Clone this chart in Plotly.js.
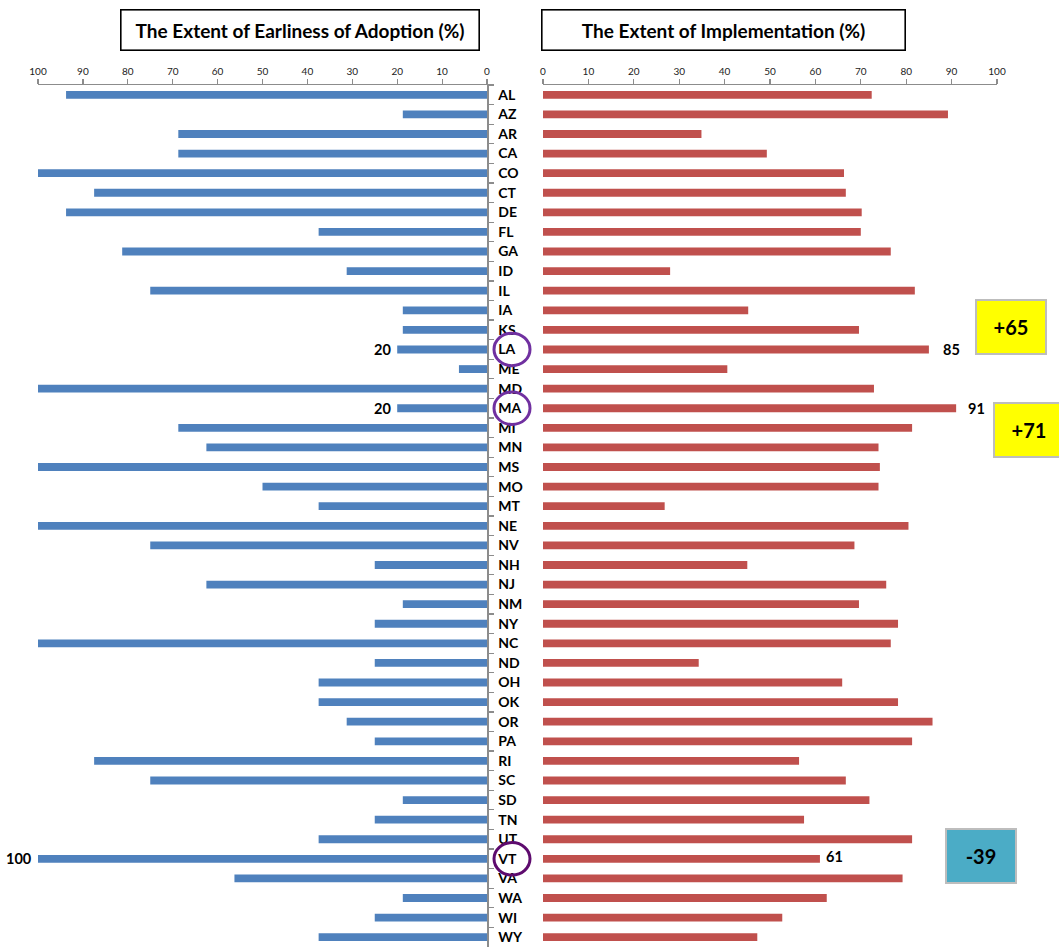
<!DOCTYPE html>
<html>
<head>
<meta charset="utf-8">
<script src="https://cdn.plot.ly/plotly-3.0.1.min.js"></script>
<style>
  html, body { margin: 0; padding: 0; background: #ffffff; }
  #chart { width: 1059px; height: 948px; }
</style>
</head>
<body>
<div id="chart"></div>
<script>
// State codes, top to bottom
const states = ['AL','AZ','AR','CA','CO','CT','DE','FL','GA','ID','IL','IA','KS','LA','ME',
  'MD','MA','MI','MN','MS','MO','MT','NE','NV','NH','NJ','NM','NY','NC','ND',
  'OH','OK','OR','PA','RI','SC','SD','TN','UT','VT','VA','WA','WI','WY'];

// The Extent of Earliness of Adoption (%)
const adoption = [93.75,18.75,68.75,68.75,100,87.5,93.75,37.5,81.25,31.25,75,18.75,18.75,20,6.25,
  100,20,68.75,62.5,100,50,37.5,100,75,25,62.5,18.75,25,100,25,
  37.5,37.5,31.25,25,87.5,75,18.75,25,37.5,100,56.25,18.75,25,37.5];

// The Extent of Implementation (%)
const implementation = [72.4,89.2,34.9,49.3,66.3,66.7,70.2,70,76.6,28,81.9,45.2,69.6,85,40.6,
  72.9,91,81.3,73.9,74.2,73.9,26.8,80.5,68.6,45,75.6,69.6,78.2,76.6,34.3,
  65.9,78.2,85.8,81.3,56.4,66.7,71.9,57.5,81.3,61,79.2,62.5,52.7,47.2];

// Highlighted states with their gap (implementation minus adoption)
const highlighted = ['LA','MA','VT'];

const W = 1059, H = 948;
const px = v => v / W;          // horizontal pixel -> paper
const py = v => 1 - v / H;      // vertical pixel -> paper

const FONT = 'Lato, "Open Sans", sans-serif';
const BLUE = '#4F81BD', RED = '#C0504D', AXIS = '#8c8c8c';

const traces = [
  {
    type: 'bar', orientation: 'h', x: adoption, y: states,
    xaxis: 'x', yaxis: 'y', width: 0.4,
    marker: { color: BLUE, line: { width: 0 } },
    hoverinfo: 'x+y'
  },
  {
    type: 'bar', orientation: 'h', x: implementation, y: states,
    xaxis: 'x2', yaxis: 'y', width: 0.4,
    marker: { color: RED, line: { width: 0 } },
    hoverinfo: 'x+y'
  }
];

const annotations = [];
const shapes = [];

// Panel title boxes
function titleBox(text, x0, x1) {
  annotations.push({
    xref: 'paper', yref: 'paper', x: px((x0 + x1) / 2), y: py(30),
    xanchor: 'center', yanchor: 'middle', showarrow: false,
    text: '<b>' + text + '</b>',
    font: { family: FONT, size: 19, color: '#000' },
    width: x1 - x0 - 3, height: 39, borderwidth: 1.6, bordercolor: '#000', borderpad: 0,
    bgcolor: '#fff'
  });
}
titleBox('The Extent of Earliness of Adoption (%)', 120, 480);
titleBox('The Extent of Implementation (%)', 541, 906);

// Value labels, circles and gap boxes for the highlighted states
const gapBoxes = {
  LA: { cx: 1011, cy: 326.5, bg: '#FFFF00' },
  MA: { cx: 1029, cy: 430, bg: '#FFFF00' },
  VT: { cx: 981, cy: 856, bg: '#4BACC6' }
};
const circleColor = { LA: '#7030A0', MA: '#7030A0', VT: '#5E0B6E' };
const implShift = { LA: 12, MA: 10, VT: 4 };

highlighted.forEach(s => {
  const i = states.indexOf(s);
  const a = adoption[i], m = implementation[i];
  annotations.push({
    xref: 'x', yref: 'y', x: a, y: s, xanchor: 'right', yanchor: 'middle',
    xshift: -4, showarrow: false, text: '<b>' + a + '</b>',
    font: { family: FONT, size: 14.5, color: '#000' }
  });
  annotations.push({
    xref: 'x2', yref: 'y', x: m, y: s, xanchor: 'left', yanchor: 'middle',
    xshift: implShift[s], yshift: s === 'VT' ? 2 : 0, showarrow: false, text: '<b>' + m + '</b>',
    font: { family: FONT, size: 14.5, color: '#000' }
  });
  const d = Math.round(m - a);
  const g = gapBoxes[s];
  annotations.push({
    xref: 'paper', yref: 'paper', x: px(g.cx), y: py(g.cy),
    xanchor: 'center', yanchor: 'middle', showarrow: false,
    text: '<b>' + (d > 0 ? '+' + d : String(d)) + '</b>',
    font: { family: FONT, size: 20, color: '#000' },
    width: 68, height: 52, bgcolor: g.bg, bordercolor: '#bdbdbd', borderwidth: 2, borderpad: 0
  });
  shapes.push({
    type: 'circle', xref: 'paper', yref: 'y',
    x0: px(494), x1: px(530), y0: i - 0.83, y1: i + 0.83,
    line: { color: circleColor[s], width: 3 }
  });
});

const layout = {
  width: W, height: H,
  margin: { l: 0, r: 0, t: 0, b: 0, pad: 0 },
  paper_bgcolor: '#fff', plot_bgcolor: 'rgba(0,0,0,0)',
  showlegend: false, bargap: 0.6,
  font: { family: FONT, color: '#000' },
  xaxis: {
    domain: [px(38), px(487)], anchor: 'y', side: 'top',
    range: [100, 0], fixedrange: true,
    dtick: 10, tick0: 0, showgrid: false, zeroline: false,
    showline: true, linecolor: AXIS, linewidth: 1.5,
    ticks: 'outside', ticklen: 5, tickcolor: AXIS, tickwidth: 1.2,
    tickfont: { family: FONT, size: 10, color: '#222' }
  },
  xaxis2: {
    domain: [px(543), px(997)], anchor: 'y', side: 'top',
    range: [0, 100], fixedrange: true,
    dtick: 10, tick0: 0, showgrid: false, zeroline: false,
    showline: true, linecolor: AXIS, linewidth: 1.5,
    ticks: 'outside', ticklen: 5, tickcolor: AXIS, tickwidth: 1.2,
    tickfont: { family: FONT, size: 10, color: '#222' }
  },
  yaxis: {
    domain: [py(947), py(85)], anchor: 'x', side: 'right',
    type: 'category', categoryorder: 'array', categoryarray: states,
    range: [states.length - 0.5, -0.5], fixedrange: true,
    showgrid: false, zeroline: false,
    showline: true, linecolor: AXIS, linewidth: 1.5,
    ticks: 'outside', ticklen: 5, tickcolor: AXIS, tickwidth: 1.2,
    tickson: 'boundaries', ticklabelstandoff: 7,
    tickfont: { family: FONT, size: 14, color: '#000', weight: 'bold' }
  },
  annotations: annotations,
  shapes: shapes
};

Plotly.newPlot('chart', traces, layout, { displayModeBar: false, staticPlot: true });
</script>
</body>
</html>
